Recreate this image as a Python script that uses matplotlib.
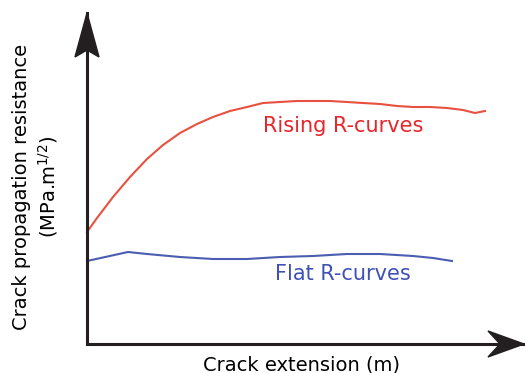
import matplotlib.pyplot as plt
from matplotlib.patches import Polygon

# crack extension / resistance (arbitrary units)
rising_x = [0, 10, 26, 43, 60, 76, 93, 110, 126, 143, 160, 176, 193, 210,
            226, 243, 260, 276, 293, 310, 326, 343, 360, 376, 388, 398]
rising_y = [112, 126, 147, 167, 185, 199, 211, 220, 227, 233, 237, 241, 242, 243,
            243, 243, 242, 241, 240, 238, 237, 237, 236, 234, 231, 233]

flat_x = [0, 41, 60, 93, 126, 160, 193, 226, 260, 293, 326, 346, 365]
flat_y = [83, 92, 90, 87, 85, 85, 87, 88, 90, 90, 88, 86, 83]

XMAX, YMAX = 437, 331
AXIS_COL = "#231f20"
RED_LINE, RED_TXT = "#e8503f", "#e8262b"
BLUE_LINE, BLUE_TXT = "#4a5db0", "#3f51b5"

fig = plt.figure(figsize=(5.25, 3.73), dpi=100)
ax = fig.add_axes([87 / 525, 29 / 373, XMAX / 525, YMAX / 373])
ax.set_xlim(0, XMAX)
ax.set_ylim(0, YMAX)

for side in ["top", "right"]:
    ax.spines[side].set_visible(False)
for side in ["left", "bottom"]:
    ax.spines[side].set_linewidth(2.2)
    ax.spines[side].set_color(AXIS_COL)
ax.set_xticks([])
ax.set_yticks([])

# stealth-like arrow heads at the ends of the axes
up = Polygon([(0, YMAX), (-12, YMAX - 44), (0, YMAX - 37), (12, YMAX - 44)],
             closed=True, color=AXIS_COL, clip_on=False, zorder=5)
right = Polygon([(XMAX, 0), (XMAX - 36, 13), (XMAX - 24, 0), (XMAX - 36, -13)],
                closed=True, color=AXIS_COL, clip_on=False, zorder=5)
ax.add_patch(up)
ax.add_patch(right)

ax.plot(rising_x, rising_y, color=RED_LINE, lw=1.5, clip_on=False)
ax.plot(flat_x, flat_y, color=BLUE_LINE, lw=1.5, clip_on=False)

ax.text(256, 218, "Rising R-curves", color=RED_TXT, fontsize=15,
        ha="center", va="center")
ax.text(256, 70, "Flat R-curves", color=BLUE_TXT, fontsize=15,
        ha="center", va="center")

ax.set_xlabel("Crack extension (m)", fontsize=14)
ax.xaxis.set_label_coords(0.49, -0.036)
ax.set_ylabel("Crack propagation resistance\n(MPa.m$^{1/2}$)", fontsize=14,
              linespacing=1.25)
ax.yaxis.set_label_coords(-0.062, 0.474)

fig.savefig("out.png", dpi=100)
